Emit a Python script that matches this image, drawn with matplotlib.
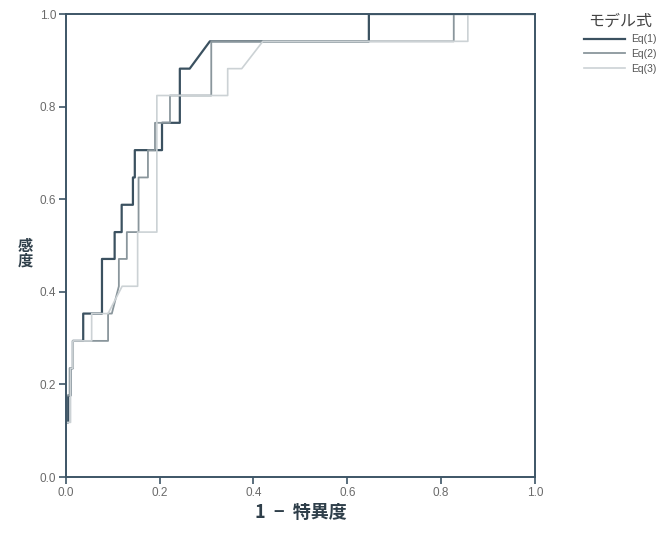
import matplotlib
matplotlib.use('Agg')
import matplotlib.pyplot as plt

plt.rcParams['font.family'] = ['Noto Sans CJK JP', 'DejaVu Sans']

# ROC曲線 (1 - 特異度, 感度)
fpr1 = [0.0, 0.0, 0.005, 0.005, 0.01, 0.01, 0.015, 0.015, 0.037, 0.037, 0.077, 0.077,
        0.104, 0.104, 0.119, 0.119, 0.143, 0.143, 0.147, 0.147, 0.205, 0.205, 0.243,
        0.243, 0.264, 0.307, 0.646, 0.646, 1.0]
tpr1 = [0.0, 0.118, 0.118, 0.176, 0.176, 0.235, 0.235, 0.294, 0.294, 0.353, 0.353, 0.471,
        0.471, 0.529, 0.529, 0.588, 0.588, 0.647, 0.647, 0.706, 0.706, 0.765, 0.765,
        0.882, 0.882, 0.941, 0.941, 1.0, 1.0]

fpr2 = [0.0, 0.0, 0.008, 0.008, 0.015, 0.015, 0.09, 0.09, 0.098, 0.113, 0.113, 0.13,
        0.13, 0.155, 0.155, 0.175, 0.175, 0.19, 0.19, 0.222, 0.222, 0.31, 0.31,
        0.827, 0.827, 1.0]
tpr2 = [0.0, 0.176, 0.176, 0.235, 0.235, 0.294, 0.294, 0.353, 0.353, 0.412, 0.471, 0.471,
        0.529, 0.529, 0.647, 0.647, 0.706, 0.706, 0.765, 0.765, 0.824, 0.824, 0.941,
        0.941, 1.0, 1.0]

fpr3 = [0.0, 0.0, 0.01, 0.01, 0.015, 0.015, 0.055, 0.055, 0.09, 0.12, 0.153, 0.153,
        0.194, 0.194, 0.345, 0.345, 0.375, 0.42, 0.857, 0.857, 1.0]
tpr3 = [0.0, 0.118, 0.118, 0.235, 0.235, 0.294, 0.294, 0.353, 0.353, 0.412, 0.412, 0.529,
        0.529, 0.824, 0.824, 0.882, 0.882, 0.941, 0.941, 1.0, 1.0]

labels = ['Eq(1)', 'Eq(2)', 'Eq(3)']
colors = ['#3b5160', '#8a969c', '#ccd2d5']
widths = [1.6, 1.3, 1.2]
ticks = [0, 0.2, 0.4, 0.6, 0.8, 1.0]
tick_labels = ['0.0', '0.2', '0.4', '0.6', '0.8', '1.0']

fig = plt.figure(figsize=(6.72, 5.39), dpi=100)
ax = fig.add_axes([0.098, 0.115, 0.698, 0.859])

for fx, ty, lab, c, w in zip([fpr1, fpr2, fpr3], [tpr1, tpr2, tpr3], labels, colors, widths):
    ax.plot(fx, ty, color=c, lw=w, label=lab)

ax.set_xlim(0, 1)
ax.set_ylim(0, 1)
ax.set_xticks(ticks)
ax.set_yticks(ticks)
ax.set_xticklabels(tick_labels, family='Liberation Sans')
ax.set_yticklabels(tick_labels, family='Liberation Sans')
ax.tick_params(direction='out', length=5, width=1.2, color='#3d5566',
               labelsize=8.5, labelcolor='#6a6a6a', pad=2)
for s in ax.spines.values():
    s.set_color('#3d5566')
    s.set_linewidth(1.4)

ax.set_xlabel('1  −  特異度', fontsize=13, fontweight='bold', color='#2f3f4a', labelpad=3)
fig.text(0.038, 0.53, '感\n度', fontsize=11, fontweight='bold', color='#2f3f4a',
         ha='center', va='center', linespacing=0.95)

leg = ax.legend(loc='upper left', bbox_to_anchor=(1.095, 1.012), frameon=False,
                title='モデル式', fontsize=7.5, handlelength=4.0, handletextpad=0.6,
                labelspacing=0.45, borderaxespad=0)
leg.get_title().set_fontsize(11.5)
leg.get_title().set_color('#444444')
for t in leg.get_texts():
    t.set_color('#555555')
    t.set_family('Liberation Sans')

fig.savefig('out.png', dpi=100)
